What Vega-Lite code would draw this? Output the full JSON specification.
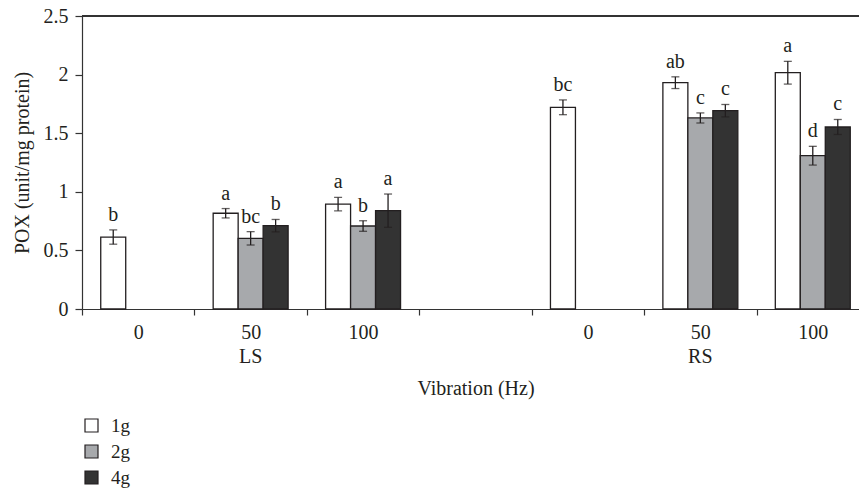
{
  "$schema": "https://vega.github.io/schema/vega-lite/v6.json",
  "width": 777,
  "height": 293,
  "autosize": {"type": "none"},
  "padding": {"left": 82, "top": 16, "right": 0, "bottom": 180},
  "background": "white",
  "config": {
    "view": {"stroke": null},
    "font": "Liberation Serif",
    "axis": {"labelFont": "Liberation Serif", "titleFont": "Liberation Serif", "labelFontSize": 20, "titleFontSize": 20, "titleFontWeight": "normal", "labelColor": "#231f20", "titleColor": "#231f20", "domainColor": "#333333", "tickColor": "#333333", "domainWidth": 1.2, "tickWidth": 1.2, "grid": false},
    "legend": {"labelFont": "Liberation Serif", "labelFontSize": 19, "labelColor": "#231f20"}
  },
  "data": {
    "values": [
      {"cat": "LS-0", "grp": "1g", "mean": 0.614, "lo": 0.553, "hi": 0.675, "letter": "b"},
      {"cat": "LS-50", "grp": "1g", "mean": 0.817, "lo": 0.777, "hi": 0.857, "letter": "a"},
      {"cat": "LS-50", "grp": "2g", "mean": 0.603, "lo": 0.546, "hi": 0.66, "letter": "bc"},
      {"cat": "LS-50", "grp": "4g", "mean": 0.711, "lo": 0.658, "hi": 0.764, "letter": "b"},
      {"cat": "LS-100", "grp": "1g", "mean": 0.895, "lo": 0.838, "hi": 0.952, "letter": "a"},
      {"cat": "LS-100", "grp": "2g", "mean": 0.708, "lo": 0.663, "hi": 0.753, "letter": "b"},
      {"cat": "LS-100", "grp": "4g", "mean": 0.839, "lo": 0.697, "hi": 0.981, "letter": "a"},
      {"cat": "RS-0", "grp": "1g", "mean": 1.721, "lo": 1.658, "hi": 1.784, "letter": "bc"},
      {"cat": "RS-50", "grp": "1g", "mean": 1.931, "lo": 1.881, "hi": 1.981, "letter": "ab"},
      {"cat": "RS-50", "grp": "2g", "mean": 1.63, "lo": 1.587, "hi": 1.673, "letter": "c"},
      {"cat": "RS-50", "grp": "4g", "mean": 1.692, "lo": 1.639, "hi": 1.745, "letter": "c"},
      {"cat": "RS-100", "grp": "1g", "mean": 2.016, "lo": 1.919, "hi": 2.113, "letter": "a"},
      {"cat": "RS-100", "grp": "2g", "mean": 1.308, "lo": 1.228, "hi": 1.388, "letter": "d"},
      {"cat": "RS-100", "grp": "4g", "mean": 1.553, "lo": 1.489, "hi": 1.617, "letter": "c"}
    ]
  },
  "resolve": {"axis": {"x": "independent"}},
  "layer": [
    {
      "mark": {"type": "bar", "stroke": "#231f20", "strokeWidth": 1.3},
      "encoding": {
        "x": {"field": "cat", "type": "nominal", "sort": null,
              "scale": {"domain": ["LS-0", "LS-50", "LS-100", "gap", "RS-0", "RS-50", "RS-100"], "range": [0, 787], "paddingInner": 0, "paddingOuter": 0},
              "axis": {"orient": "bottom", "title": null, "labelAngle": 0, "tickBand": "extent", "tickSize": 6, "labelPadding": 7, "labelExpr": "datum.value == 'gap' ? '' : split(datum.value, '-')[1]"}},
        "xOffset": {"field": "grp", "type": "nominal", "scale": {"domain": ["1g", "2g", "4g"], "paddingInner": 0, "paddingOuter": 0.75}},
        "y": {"field": "mean", "type": "quantitative",
              "scale": {"domain": [0, 2.5], "nice": false, "zero": true},
              "axis": {"orient": "left", "title": "POX (unit/mg protein)", "values": [0, 0.5, 1, 1.5, 2, 2.5], "tickSize": 7, "labelPadding": 7, "titlePadding": 11, "labelExpr": "format(datum.value, '~g')"}},
        "fill": {"field": "grp", "type": "nominal",
                 "scale": {"domain": ["1g", "2g", "4g"], "range": ["#ffffff", "#a7a9ac", "#333333"]},
                 "legend": {"orient": "none", "legendX": 0, "legendY": 400, "direction": "vertical", "title": null, "symbolType": "square", "symbolSize": 169, "symbolStrokeColor": "#231f20", "symbolStrokeWidth": 1.2, "labelOffset": 10, "rowPadding": 6, "padding": 0}}
      }
    },
    {
      "mark": {"type": "rule", "color": "#231f20", "strokeWidth": 1.3},
      "encoding": {
        "x": {"field": "cat", "type": "nominal", "sort": null,
              "axis": {"orient": "bottom", "title": "Vibration (Hz)", "ticks": false, "tickSize": 0, "domain": false, "labelAngle": 0, "labelPadding": 37, "titlePadding": 12, "labelExpr": "datum.value == 'LS-50' ? 'LS' : (datum.value == 'RS-50' ? 'RS' : '')"}},
        "xOffset": {"field": "grp", "type": "nominal"},
        "y": {"field": "lo", "type": "quantitative"},
        "y2": {"field": "hi"}
      }
    },
    {
      "mark": {"type": "tick", "color": "#231f20", "size": 8, "thickness": 1.3},
      "encoding": {
        "x": {"field": "cat", "type": "nominal", "sort": null, "axis": null},
        "xOffset": {"field": "grp", "type": "nominal"},
        "y": {"field": "hi", "type": "quantitative"}
      }
    },
    {
      "mark": {"type": "tick", "color": "#231f20", "size": 8, "thickness": 1.3},
      "encoding": {
        "x": {"field": "cat", "type": "nominal", "sort": null, "axis": null},
        "xOffset": {"field": "grp", "type": "nominal"},
        "y": {"field": "lo", "type": "quantitative"}
      }
    },
    {
      "mark": {"type": "text", "baseline": "alphabetic", "dy": -9, "fontSize": 20, "color": "#231f20", "font": "Liberation Serif"},
      "encoding": {
        "x": {"field": "cat", "type": "nominal", "sort": null, "axis": null},
        "xOffset": {"field": "grp", "type": "nominal"},
        "y": {"field": "hi", "type": "quantitative"},
        "text": {"field": "letter"}
      }
    },
    {
      "mark": {"type": "rule", "color": "#333333", "strokeWidth": 1.2},
      "encoding": {
        "y": {"datum": 2.5, "type": "quantitative"}
      }
    }
  ]
}
